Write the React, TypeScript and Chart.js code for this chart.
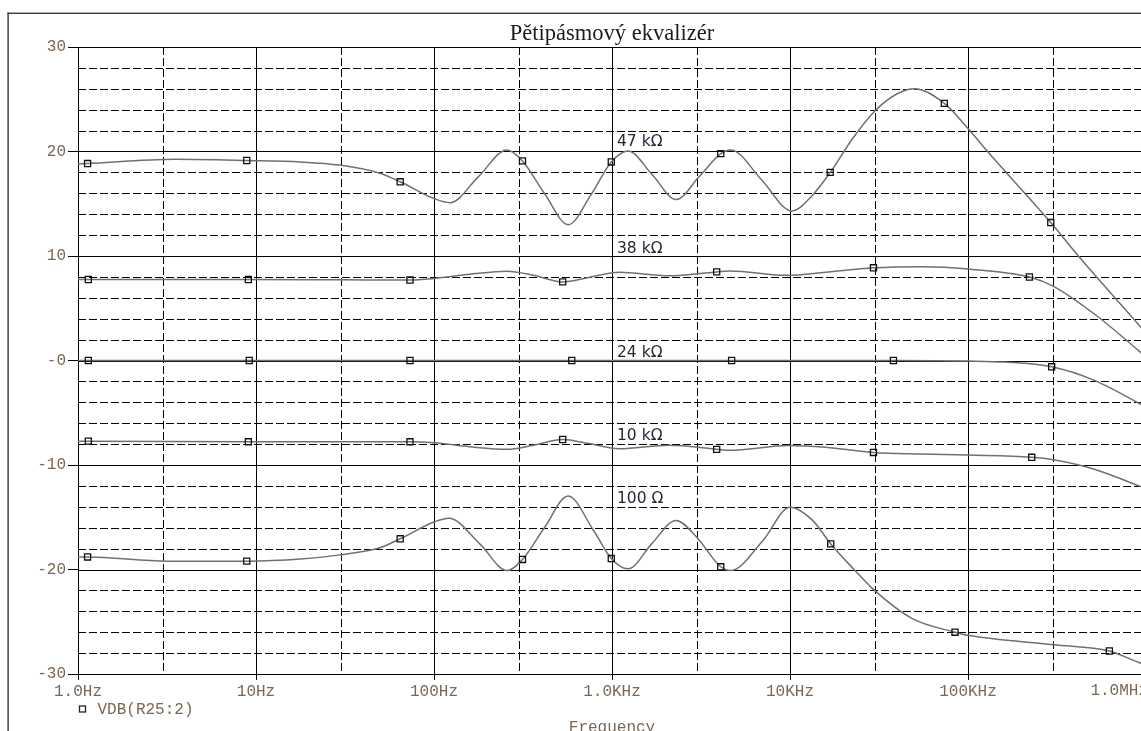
import React, { useEffect, useRef } from "react";
import { Chart, registerables } from "chart.js";

Chart.register(...registerables);

// ---- axis ticks ----
const xTickValues = [1, 10, 100, 1000, 10000, 100000, 1000000];
const xTickLabels = ["1.0Hz", "10Hz", "100Hz", "1.0KHz", "10KHz", "100KHz", "1.0MHz"];
const xMinorGrid = [3, 30, 300, 3000, 30000, 300000];
const yTickValues = [-30, -20, -10, 0, 10, 20, 30];
const yTickLabels = ["-30", "-20", "-10", "-0", "10", "20", "30"];
const yMinorValues = [-28, -26, -24, -22, -18, -16, -14, -12, -8, -6, -4, -2, 2, 4, 6, 8, 12, 14, 16, 18, 22, 24, 26, 28];

// ---- series: 47 kΩ ----
const freq47k = [1, 1.132, 3.548, 8.872, 17.78, 29.51, 50.12, 64.57, 100, 123.0, 177.8, 257.0, 314.1, 416.9, 567.5, 758.6, 990.8, 1230, 1679, 2291, 3090, 4083, 4645, 6918, 10233, 13183, 16827, 22387, 30061, 39811, 50119, 73621, 100000, 128825, 291743, 416869, 912011, 1202264];
const db47k = [18.8, 18.85, 19.25, 19.14, 19.0, 18.7, 17.9, 17.1, 15.5, 15.1, 17.6, 20.15, 19.1, 16.0, 13.0, 15.8, 19.0, 20.05, 17.8, 15.4, 17.6, 19.8, 20.15, 17.3, 14.3, 15.7, 18.0, 21.2, 23.9, 25.5, 26.0, 24.6, 22.2, 20.0, 13.2, 10.0, 3.4, 1.0];
const mark47k = [1, 3, 7, 12, 16, 21, 26, 31, 34];

// ---- series: 38 kΩ ----
const freq38k = [1, 1.143, 9.057, 31.62, 73.28, 100, 158.5, 257.0, 363.1, 528.4, 741.3, 1096, 2089, 3873, 4571, 9772, 15849, 29444, 54954, 100000, 221309, 301995, 512861, 912011, 1202264];
const db38k = [7.75, 7.75, 7.75, 7.72, 7.7, 7.85, 8.25, 8.55, 8.15, 7.52, 7.95, 8.45, 8.1, 8.48, 8.57, 8.15, 8.45, 8.87, 8.98, 8.76, 7.99, 7.1, 4.45, 0.92, -0.9];
const mark38k = [1, 2, 4, 9, 13, 17, 20];

// ---- series: 24 kΩ ----
const freq24k = [1, 1.143, 9.162, 73.28, 594.3, 4699, 38107, 100000, 162181, 295121, 512861, 912011, 1202264];
const db24k = [0, 0, 0, 0, 0, 0, 0, -0.05, -0.15, -0.6, -1.9, -4.1, -5.3];
const mark24k = [1, 2, 3, 4, 5, 6, 9];

// ---- series: 10 kΩ ----
const freq10k = [1, 1.143, 9.057, 31.62, 73.28, 100, 158.5, 257.0, 363.1, 528.4, 741.3, 1096, 2089, 3873, 4571, 9772, 15849, 29444, 54954, 100000, 228034, 301995, 512861, 912011, 1202264];
const db10k = [-7.75, -7.72, -7.78, -7.78, -7.78, -7.87, -8.25, -8.5, -8.1, -7.56, -7.95, -8.44, -8.1, -8.5, -8.6, -8.13, -8.3, -8.8, -8.95, -9.05, -9.26, -9.5, -10.4, -12.0, -12.8];
const mark10k = [1, 2, 4, 9, 13, 17, 20];

// ---- series: 100 Ω ----
const freq100 = [1, 1.132, 3.162, 8.872, 17.78, 29.65, 50.12, 64.57, 100, 121.3, 182.0, 257.0, 314.1, 416.9, 567.5, 783.4, 990.8, 1230, 1679, 2291, 2951, 4083, 4645, 6998, 10000, 13397, 16943, 22909, 30061, 48641, 84528, 100000, 301995, 622300, 912011, 1202264];
const db100 = [-18.8, -18.8, -19.2, -19.2, -19.0, -18.6, -17.9, -17.06, -15.46, -15.1, -17.6, -20.1, -19.04, -16.0, -12.97, -16.2, -18.95, -19.94, -17.5, -15.3, -16.8, -19.74, -20.1, -17.3, -14.05, -15.3, -17.55, -20.0, -22.05, -24.7, -26.0, -26.3, -27.2, -27.8, -28.9, -29.6];
const mark100 = [1, 3, 7, 12, 16, 21, 26, 30, 33];

// ---- curve annotations ----
const curveLabels = ["47 kΩ", "38 kΩ", "24 kΩ", "10 kΩ", "100 Ω"];
const curveLabelFreq = [1067, 1067, 1067, 1067, 1067];
const curveLabelDb = [20.48, 10.3, 0.32, -7.56, -13.68];

const titleText = "Pětipásmový ekvalizér";
const legendText = "VDB(R25:2)";
const xAxisTitle = "Frequency";

const TICK_COLOR = "#7a6754";
const CURVE_COLOR = "#707070";
const TICK_FONT = '16px "Liberation Mono"';

const series = [
  { f: freq47k, d: db47k, m: mark47k },
  { f: freq38k, d: db38k, m: mark38k },
  { f: freq24k, d: db24k, m: mark24k },
  { f: freq10k, d: db10k, m: mark10k },
  { f: freq100, d: db100, m: mark100 },
];

const lastXIndex = xTickValues.length - 1;

const gridPlugin = {
  id: "pspiceGrid",
  beforeDatasetsDraw(chart: any) {
    const { ctx, chartArea: a, scales } = chart;
    const x = scales.x;
    const y = scales.y;
    ctx.save();
    ctx.beginPath();
    ctx.rect(a.left - 1, a.top - 1, a.right - a.left + 2, a.bottom - a.top + 2);
    ctx.clip();
    ctx.strokeStyle = "#000";
    ctx.lineWidth = 1;
    const hline = (v: number) => {
      const py = Math.round(y.getPixelForValue(v)) + 0.5;
      ctx.beginPath();
      ctx.moveTo(a.left, py);
      ctx.lineTo(a.right, py);
      ctx.stroke();
    };
    const vline = (v: number) => {
      const px = Math.round(x.getPixelForValue(v)) + 0.5;
      ctx.beginPath();
      ctx.moveTo(px, a.top);
      ctx.lineTo(px, a.bottom);
      ctx.stroke();
    };
    ctx.setLineDash([8, 3]);
    yMinorValues.forEach(hline);
    xMinorGrid.forEach(vline);
    ctx.setLineDash([]);
    yTickValues.forEach(hline);
    xTickValues.forEach(vline);
    ctx.restore();
  },
  afterDraw(chart: any) {
    const { ctx, chartArea: a, scales } = chart;
    const x = scales.x;
    const y = scales.y;
    ctx.save();
    // window frame
    ctx.fillStyle = "#3a3a3a";
    ctx.fillRect(7.4, 12.6, 1.4, chart.height);
    ctx.fillRect(7.4, 12.6, chart.width, 1.4);
    // title
    const cx = (a.left + a.right) / 2;
    ctx.fillStyle = "#1c1c1c";
    ctx.font = '22.5px "Liberation Serif"';
    ctx.textAlign = "center";
    ctx.textBaseline = "alphabetic";
    ctx.fillText(titleText, cx, 40);
    // curve labels
    ctx.font = '15.5px "DejaVu Sans"';
    ctx.textAlign = "left";
    ctx.fillStyle = "#262638";
    curveLabels.forEach((t, i) => {
      ctx.fillText(t, x.getPixelForValue(curveLabelFreq[i]), y.getPixelForValue(curveLabelDb[i]));
    });
    // last x tick label, pulled inside the window like the original plot
    ctx.fillStyle = TICK_COLOR;
    ctx.font = TICK_FONT;
    ctx.textBaseline = "middle";
    ctx.textAlign = "right";
    ctx.fillText(xTickLabels[lastXIndex], x.getPixelForValue(xTickValues[lastXIndex]) + 2, a.bottom + 17);
    // legend
    ctx.strokeStyle = "#222";
    ctx.lineWidth = 1.3;
    ctx.strokeRect(a.left + 1.5, 706, 6, 6);
    ctx.textAlign = "left";
    ctx.fillText(legendText, a.left + 19.5, 709.5);
    // x axis title
    ctx.textAlign = "center";
    ctx.textBaseline = "alphabetic";
    ctx.fillText(xAxisTitle, cx, 731.5);
    ctx.restore();
  },
};

export default function App() {
  const canvasRef = useRef<HTMLCanvasElement | null>(null);

  useEffect(() => {
    const canvas = canvasRef.current;
    if (!canvas) return;
    const datasets = series.map((s) => ({
      data: s.f.map((f, i) => ({ x: f, y: s.d[i] })),
      borderColor: CURVE_COLOR,
      borderWidth: 1.5,
      cubicInterpolationMode: "monotone" as const,
      fill: false,
      pointStyle: "rect" as const,
      pointRadius: (c: any) => (s.m.includes(c.dataIndex) ? 4.3 : 0),
      pointBorderColor: "#111",
      pointBackgroundColor: "rgba(255,255,255,0)",
      pointBorderWidth: 1.3,
      pointHoverRadius: 0,
    }));

    const chart = new Chart(canvas, {
      type: "line",
      data: { datasets },
      plugins: [gridPlugin],
      options: {
        responsive: false,
        animation: false,
        events: [],
        layout: { padding: { left: 0, right: 54, top: 47, bottom: 0 } },
        plugins: {
          legend: { display: false },
          title: { display: false },
          tooltip: { enabled: false },
        },
        scales: {
          x: {
            type: "logarithmic",
            min: 1,
            max: 1000000,
            afterBuildTicks: (scale: any) => {
              scale.ticks = xTickValues.map((v) => ({ value: v }));
            },
            afterFit: (scale: any) => {
              scale.height = 57;
            },
            ticks: {
              autoSkip: false,
              maxRotation: 0,
              minRotation: 0,
              padding: 2,
              color: TICK_COLOR,
              font: { family: "Liberation Mono", size: 16 },
              callback: (v: any) => {
                const i = xTickValues.indexOf(Number(v));
                return i >= 0 && i !== lastXIndex ? xTickLabels[i] : "";
              },
            },
            grid: {
              drawOnChartArea: false,
              drawTicks: true,
              tickLength: 6,
              color: "#000",
              lineWidth: 1,
            },
            border: { display: false },
          },
          y: {
            type: "linear",
            min: -30,
            max: 30,
            afterFit: (scale: any) => {
              scale.width = 78;
            },
            ticks: {
              stepSize: 10,
              padding: 2,
              color: TICK_COLOR,
              font: { family: "Liberation Mono", size: 16 },
              callback: (v: any) => {
                const i = yTickValues.indexOf(Number(v));
                return i >= 0 ? yTickLabels[i] : "";
              },
            },
            grid: {
              drawOnChartArea: false,
              drawTicks: true,
              tickLength: 10,
              color: "#000",
              lineWidth: 1,
            },
            border: { display: false },
          },
        },
      },
    });
    return () => chart.destroy();
  }, []);

  return (
    <div
      style={{
        position: "fixed",
        left: 0,
        top: 0,
        width: 1141,
        height: 731,
        overflow: "hidden",
        background: "#fff",
      }}
    >
      <canvas ref={canvasRef} width={1200} height={731} style={{ display: "block" }} />
    </div>
  );
}
